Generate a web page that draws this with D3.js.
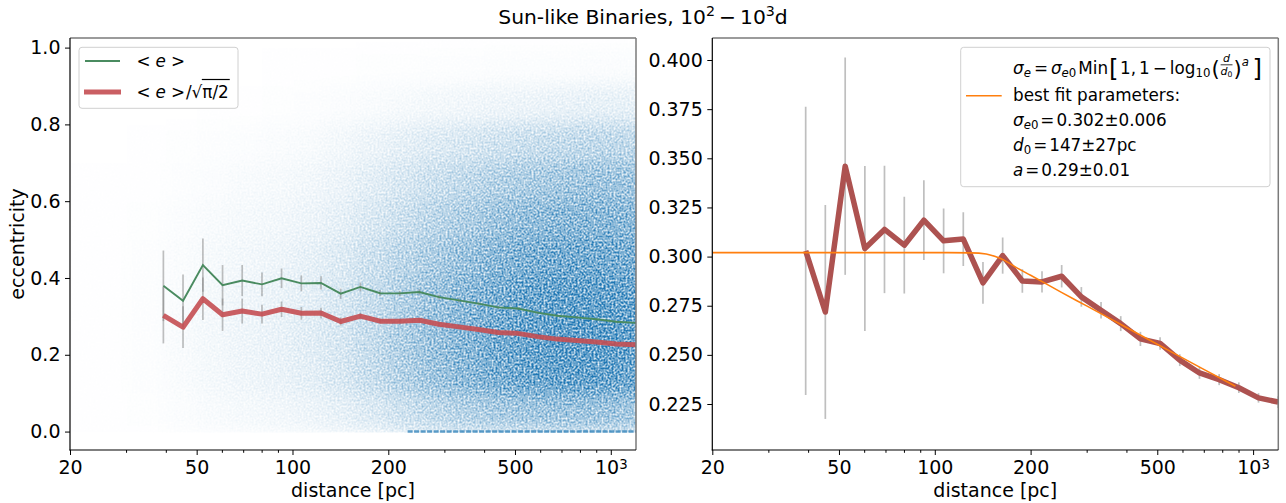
<!DOCTYPE html>
<html>
<head>
<meta charset="utf-8">
<script src="https://cdn.jsdelivr.net/npm/d3@7"></script>
<style>
  body { margin: 0; background: #fff; }
  svg text { font-family: "DejaVu Sans", sans-serif; fill: #000; }
</style>
</head>
<body>
<svg id="chart" width="1286" height="503"></svg>
<script>
// ---------- data ----------
var distance = [39.3, 45.3, 52.3, 60.3, 69.5, 80.2, 92.4, 106.6, 122.9, 141.7, 163.4, 188.4,
                217.2, 250.4, 288.7, 332.9, 383.9, 442.6, 510.3, 588.4, 678.5, 782.3, 902.0, 1040, 1199];
// <e>/sqrt(pi/2)
var sigmaE   = [0.3029, 0.2718, 0.3460, 0.3041, 0.3138, 0.3058, 0.3185, 0.3080, 0.3089, 0.2866, 0.3005, 0.2876,
                0.2871, 0.2900, 0.2795, 0.2727, 0.2659, 0.2581, 0.2558, 0.2473, 0.2408, 0.2374, 0.2333, 0.2281, 0.2260];
var sigmaErr = [0.0733, 0.0544, 0.0553, 0.0420, 0.0324, 0.0246, 0.0203, 0.0165, 0.0137, 0.0106, 0.0092, 0.0060,
                0.0054, 0.0057, 0.0050, 0.0042, 0.0038, 0.0036, 0.0032, 0.0030, 0.0030, 0.0028, 0.0027, 0.0024, 0.0030];
// <e>
var meanE    = [0.3796, 0.3406, 0.4336, 0.3811, 0.3933, 0.3833, 0.3992, 0.3860, 0.3871, 0.3592, 0.3766, 0.3604,
                0.3598, 0.3635, 0.3503, 0.3418, 0.3332, 0.3235, 0.3206, 0.3099, 0.3018, 0.2975, 0.2924, 0.2859, 0.2832];
var meanErr  = [0.0919, 0.0682, 0.0693, 0.0526, 0.0406, 0.0308, 0.0254, 0.0207, 0.0172, 0.0133, 0.0115, 0.0075,
                0.0068, 0.0071, 0.0063, 0.0053, 0.0048, 0.0045, 0.0040, 0.0038, 0.0038, 0.0035, 0.0034, 0.0030, 0.0038];

// best fit curve (orange)
var fitDist  = [20, 100, 130, 145, 155, 165, 180, 200, 250, 300, 400, 500, 700, 880];
var fitSigma = [0.302, 0.302, 0.3019, 0.3013, 0.3000, 0.2982, 0.2945, 0.2905, 0.2818, 0.2749, 0.2639, 0.2554, 0.2426, 0.2340];

// scatter cloud, estimated point density (shade) per (distance, eccentricity) cell
var scatterDistEdges = [20, 30, 40, 50, 63, 80, 100, 126, 158, 200, 251, 316, 398, 501, 631, 794, 1000, 1200];
var scatterEccEdges  = [0, 0.1, 0.2, 0.3, 0.4, 0.5, 0.6, 0.7, 0.8, 0.9, 1.0];
var scatterDensity = [
  [0.003, 0.007, 0.018, 0.030, 0.042, 0.055, 0.075, 0.100, 0.15, 0.21, 0.27, 0.32, 0.37, 0.40, 0.42, 0.42, 0.40],
  [0.005, 0.011, 0.028, 0.047, 0.066, 0.085, 0.115, 0.160, 0.24, 0.33, 0.42, 0.50, 0.58, 0.64, 0.67, 0.67, 0.64],
  [0.005, 0.012, 0.030, 0.050, 0.070, 0.090, 0.125, 0.170, 0.25, 0.35, 0.44, 0.52, 0.60, 0.66, 0.70, 0.70, 0.67],
  [0.005, 0.011, 0.028, 0.047, 0.066, 0.085, 0.115, 0.160, 0.24, 0.33, 0.42, 0.50, 0.58, 0.64, 0.67, 0.67, 0.65],
  [0.004, 0.010, 0.024, 0.040, 0.056, 0.072, 0.100, 0.140, 0.21, 0.29, 0.36, 0.44, 0.51, 0.57, 0.60, 0.60, 0.58],
  [0.003, 0.007, 0.018, 0.030, 0.042, 0.055, 0.075, 0.105, 0.16, 0.22, 0.29, 0.35, 0.42, 0.47, 0.50, 0.51, 0.50],
  [0.002, 0.005, 0.012, 0.020, 0.030, 0.040, 0.055, 0.080, 0.12, 0.17, 0.22, 0.27, 0.32, 0.36, 0.39, 0.41, 0.41],
  [0.000, 0.003, 0.006, 0.010, 0.015, 0.022, 0.033, 0.050, 0.08, 0.11, 0.14, 0.17, 0.20, 0.23, 0.25, 0.27, 0.27],
  [0.000, 0.000, 0.000, 0.004, 0.005, 0.008, 0.012, 0.018, 0.028, 0.04, 0.05, 0.06, 0.07, 0.08, 0.09, 0.10, 0.10],
  [0.000, 0.000, 0.000, 0.000, 0.000, 0.002, 0.003, 0.004, 0.006, 0.008, 0.010, 0.012, 0.015, 0.016, 0.017, 0.018, 0.018]
];
var zeroEccRange = [230, 1200];   // points piled up at e = 0

var xTicks      = [20, 50, 100, 200, 500, 1000];
var xTickLabels = ["20", "50", "100", "200", "500", "10^3"];
var xMinorTicks = [30, 40, 60, 70, 80, 90, 300, 400, 600, 700, 800, 900];
var yTicksLeft  = [0, 0.2, 0.4, 0.6, 0.8, 1.0];
var yTicksRight = [0.225, 0.250, 0.275, 0.300, 0.325, 0.350, 0.375, 0.400];

// ---------- layout ----------
var svg = d3.select('#chart');
var top0 = 38, bottom0 = 450;
var tickFont = 19, legFont = 16.8;
var greenCol = "#4a8b60", redCol = "#c44e52", redColR = "#ad5250", barCol = "gray";

var xL = d3.scaleLog().domain([20, 1200]).range([70, 636]);
var yL = d3.scaleLinear().domain([-0.048, 1.025]).range([bottom0, top0]);
var xR = d3.scaleLog().domain([20, 1200]).range([712.3, 1278.3]);
var yR = d3.scaleLinear().domain([0.2016, 0.4112]).range([bottom0, top0]);

var defs = svg.append('defs');
function clip(id, x) {
  defs.append('clipPath').attr('id', id).append('rect')
      .attr('x', x.range()[0]).attr('y', top0)
      .attr('width', x.range()[1] - x.range()[0]).attr('height', bottom0 - top0);
}
clip('clipL', xL);
clip('clipR', xR);
defs.append('clipPath').attr('id', 'clipCloud').append('rect')
    .attr('x', 70).attr('y', top0).attr('width', 566).attr('height', yL(0) - top0 + 1);

// speckled look of the scatter cloud (texture only, shade comes from the table)
var f = defs.append('filter').attr('id', 'cloud')
    .attr('filterUnits', 'userSpaceOnUse')
    .attr('x', 50).attr('y', 20).attr('width', 610).attr('height', 450)
    .attr('color-interpolation-filters', 'sRGB');
f.append('feGaussianBlur').attr('in', 'SourceAlpha').attr('stdDeviation', 9).attr('result', 'soft');
f.append('feTurbulence').attr('type', 'fractalNoise').attr('baseFrequency', 0.5)
    .attr('numOctaves', 2).attr('seed', 4).attr('result', 'noise');
f.append('feColorMatrix').attr('in', 'noise').attr('type', 'matrix')
    .attr('values', '0 0 0 0 0  0 0 0 0 0  0 0 0 0 0  1 0 0 0 0').attr('result', 'nA');
f.append('feComposite').attr('in', 'soft').attr('in2', 'nA').attr('operator', 'arithmetic')
    .attr('k1', 2.8).attr('k2', -0.4).attr('k3', 0).attr('k4', 0).attr('result', 'a');
f.append('feFlood').attr('flood-color', '#1f77b4').attr('result', 'c');
f.append('feComposite').attr('in', 'c').attr('in2', 'a').attr('operator', 'in');

// ---------- axes helper ----------
function drawAxes(x, y, yTicks, yFmt) {
  var g = svg.append('g');
  var x0 = x.range()[0], x1 = x.range()[1];

  var ax = d3.axisBottom(x).tickValues(xTicks).tickSize(5).tickPadding(6)
      .tickFormat(function(d, i) { return xTickLabels[i]; });
  var axg = g.append('g').attr('transform', 'translate(0,' + bottom0 + ')').call(ax);
  var axm = g.append('g').attr('transform', 'translate(0,' + bottom0 + ')')
      .call(d3.axisBottom(x).tickValues(xMinorTicks).tickSize(2.8).tickFormat(''));

  var ay = d3.axisLeft(y).tickValues(yTicks).tickSize(5).tickPadding(4.5).tickFormat(d3.format(yFmt));
  var ayg = g.append('g').attr('transform', 'translate(' + x0 + ',0)').call(ay);

  [axg, axm, ayg].forEach(function(a) {
    a.attr('font-size', null).attr('font-family', null);
    a.select('.domain').remove();
    a.selectAll('line').attr('stroke', '#000').attr('stroke-width', 1);
    a.selectAll('text').style('font-size', tickFont + 'px');
  });
  // superscript label for 10^3
  axg.selectAll('text').each(function(d, i) {
    var lab = xTickLabels[i];
    if (lab.indexOf('^') > 0) {
      var p = lab.split('^'), t = d3.select(this).text('');
      t.append('tspan').text(p[0]);
      t.append('tspan').attr('dy', '-0.45em').style('font-size', '70%').text(p[1]);
    }
  });

  // spines
  g.append('line').attr('x1', x0).attr('x2', x1).attr('y1', top0).attr('y2', top0)
      .attr('stroke', '#7a7a7a').attr('stroke-width', 1.5);
  g.append('line').attr('x1', x1).attr('x2', x1).attr('y1', top0).attr('y2', bottom0)
      .attr('stroke', '#7a7a7a').attr('stroke-width', 1.5);
  g.append('line').attr('x1', x0).attr('x2', x0).attr('y1', top0).attr('y2', bottom0 + 0.5)
      .attr('stroke', '#000').attr('stroke-width', 1.2);
  g.append('line').attr('x1', x0 - 0.5).attr('x2', x1).attr('y1', bottom0).attr('y2', bottom0)
      .attr('stroke', '#000').attr('stroke-width', 1.2);

  svg.append('text').attr('x', (x0 + x1) / 2).attr('y', 497).attr('text-anchor', 'middle')
      .style('font-size', tickFont + 'px').text('distance [pc]');
}

function errBars(g, x, y, vals, errs) {
  g.append('g').selectAll('line').data(distance).enter().append('line')
      .attr('x1', function(d) { return x(d); }).attr('x2', function(d) { return x(d); })
      .attr('y1', function(d, i) { return y(vals[i] - errs[i]); })
      .attr('y2', function(d, i) { return y(vals[i] + errs[i]); })
      .attr('stroke', barCol).attr('stroke-opacity', 0.5).attr('stroke-width', 1.7);
}

// text built piece by piece (simple mathtext)
function mathText(g, x, y, parts, size) {
  var cx = x;
  parts.forEach(function(p) {
    var fs = size * (p.s || 1);
    cx += (p.pre || 0);
    var t = g.append('text').attr('x', cx).attr('y', y + (p.dy || 0))
        .style('font-size', fs + 'px').style('font-style', p.i ? 'italic' : 'normal').text(p.t);
    var w = t.node().getComputedTextLength();
    if (p.over) {
      g.append('line').attr('x1', cx - 0.5).attr('x2', cx + w + 1)
          .attr('y1', y + p.over).attr('y2', y + p.over).attr('stroke', '#000').attr('stroke-width', 1.2);
    }
    cx += w + (p.post || 0);
  });
  return cx;
}

// ---------- left panel ----------
var gL = svg.append('g');
var cloudOuter = gL.append('g').attr('clip-path', 'url(#clipCloud)');
var cloud = cloudOuter.append('g').attr('filter', 'url(#cloud)');
scatterDensity.forEach(function(row, i) {
  row.forEach(function(v, j) {
    var xa = xL(scatterDistEdges[j]), xb = xL(scatterDistEdges[j + 1]);
    if (j === 0) xa -= 30;
    if (j === row.length - 1) xb += 30;
    var ya = yL(scatterEccEdges[i + 1]), yb = yL(scatterEccEdges[i]);
    cloud.append('rect').attr('x', xa).attr('y', ya).attr('width', xb - xa + 0.5)
        .attr('height', yb - ya + 0.5).attr('fill', '#1f77b4').attr('fill-opacity', v);
  });
});
gL.append('line').attr('x1', xL(zeroEccRange[0])).attr('x2', xL(zeroEccRange[1]))
    .attr('y1', yL(0)).attr('y2', yL(0))
    .attr('stroke', '#1f77b4').attr('stroke-width', 2.4).attr('stroke-opacity', 0.7)
    .attr('stroke-dasharray', '5 1.5');

var gLd = gL.append('g').attr('clip-path', 'url(#clipL)');
errBars(gLd, xL, yL, meanE, meanErr);
errBars(gLd, xL, yL, sigmaE, sigmaErr);
gLd.append('path').datum(meanE)
    .attr('d', d3.line().x(function(d, i) { return xL(distance[i]); }).y(function(d) { return yL(d); }))
    .attr('fill', 'none').attr('stroke', greenCol).attr('stroke-width', 1.9);
gLd.append('path').datum(sigmaE)
    .attr('d', d3.line().x(function(d, i) { return xL(distance[i]); }).y(function(d) { return yL(d); }))
    .attr('fill', 'none').attr('stroke', redCol).attr('stroke-width', 5).attr('stroke-opacity', 0.9)
    .attr('stroke-linejoin', 'round');

drawAxes(xL, yL, yTicksLeft, '.1f');
svg.append('text').attr('transform', 'translate(24,244) rotate(-90)').attr('text-anchor', 'middle')
    .style('font-size', tickFont + 'px').text('eccentricity');

// left legend
var lg = svg.append('g');
lg.append('rect').attr('x', 79).attr('y', 47.3).attr('width', 159).attr('height', 61).attr('rx', 3)
    .attr('fill', '#fff').attr('fill-opacity', 0.8).attr('stroke', '#d0d0d0').attr('stroke-width', 1);
lg.append('line').attr('x1', 85).attr('x2', 120).attr('y1', 61).attr('y2', 61)
    .attr('stroke', greenCol).attr('stroke-width', 1.9);
lg.append('line').attr('x1', 84).attr('x2', 121).attr('y1', 92).attr('y2', 92)
    .attr('stroke', redCol).attr('stroke-width', 5).attr('stroke-opacity', 0.9);
mathText(lg, 136.5, 66.5, [{t: '<', post: 5}, {t: 'e', i: true, post: 5}, {t: '>'}], legFont);
mathText(lg, 136.5, 97.5, [{t: '<', post: 5}, {t: 'e', i: true, post: 5}, {t: '>', post: 1},
    {t: '/'}, {t: '\u221A'}, {t: '\u03C0/2', over: -18}], legFont);

// ---------- right panel ----------
var gR = svg.append('g').attr('clip-path', 'url(#clipR)');
errBars(gR, xR, yR, sigmaE, sigmaErr);
gR.append('path').datum(sigmaE)
    .attr('d', d3.line().x(function(d, i) { return xR(distance[i]); }).y(function(d) { return yR(d); }))
    .attr('fill', 'none').attr('stroke', redColR).attr('stroke-width', 5.5).attr('stroke-linejoin', 'round');
gR.append('path').datum(fitSigma)
    .attr('d', d3.line().curve(d3.curveMonotoneX)
        .x(function(d, i) { return xR(fitDist[i]); }).y(function(d) { return yR(d); }))
    .attr('fill', 'none').attr('stroke', '#ff7f0e').attr('stroke-width', 1.6);

drawAxes(xR, yR, yTicksRight, '.3f');

// right legend
var rg = svg.append('g');
rg.append('rect').attr('x', 960.7).attr('y', 47.3).attr('width', 309.3).attr('height', 139.4).attr('rx', 3)
    .attr('fill', '#fff').attr('fill-opacity', 0.8).attr('stroke', '#d0d0d0').attr('stroke-width', 1);
rg.append('line').attr('x1', 966).attr('x2', 1001.7).attr('y1', 95.7).attr('y2', 95.7)
    .attr('stroke', '#ff7f0e').attr('stroke-width', 1.6);

var cx = mathText(rg, 1013, 73.5, [
  {t: '\u03C3', i: true}, {t: 'e', i: true, s: 0.7, dy: 3.5, post: 3},
  {t: '=', post: 3},
  {t: '\u03C3', i: true}, {t: 'e', i: true, s: 0.7, dy: 3.5}, {t: '0', s: 0.7, dy: 3.5, post: 2},
  {t: 'Min', post: 1},
  {t: '[', s: 1.45, dy: 3, post: 1.5},
  {t: '1,', post: 3}, {t: '1', post: 3}, {t: '\u2212', post: 3},
  {t: 'log'}, {t: '10', s: 0.7, dy: 3.5, post: 1},
  {t: '(', s: 1.25, dy: 2}
], legFont);
// small fraction d/d0
var fx = cx + 1;
var fnum = rg.append('text').attr('x', fx + 6).attr('y', 62).attr('text-anchor', 'middle')
    .style('font-size', '11px').style('font-style', 'italic').text('d');
var fden = mathText(rg, fx, 74.5, [{t: 'd', i: true, s: 1}, {t: '0', s: 0.7, dy: 2}], 11);
rg.append('line').attr('x1', fx).attr('x2', fden).attr('y1', 64.8).attr('y2', 64.8)
    .attr('stroke', '#000').attr('stroke-width', 0.8);
fnum.attr('x', (fx + fden) / 2);
mathText(rg, fden + 1, 73.5, [
  {t: ')', s: 1.25, dy: 2}, {t: 'a', i: true, s: 0.7, dy: -8, post: 3.5},
  {t: ']', s: 1.45, dy: 3}
], legFont);

mathText(rg, 1013, 100.5, [{t: 'best fit parameters:'}], legFont);
mathText(rg, 1013, 125.7, [{t: '\u03C3', i: true}, {t: 'e', i: true, s: 0.7, dy: 3.5},
    {t: '0', s: 0.7, dy: 3.5, post: 2}, {t: '=', post: 2}, {t: '0.302\u00B10.006'}], legFont);
mathText(rg, 1013, 150.7, [{t: 'd', i: true}, {t: '0', s: 0.7, dy: 3.5, post: 2}, {t: '=', post: 2},
    {t: '147\u00B127pc'}], legFont);
mathText(rg, 1013, 175.7, [{t: 'a', i: true, post: 2}, {t: '=', post: 2}, {t: '0.29\u00B10.01'}], legFont);

// ---------- title ----------
var tg = svg.append('g');
var te = mathText(tg, 0, 24, [
  {t: 'Sun-like Binaries, 10'}, {t: '2', s: 0.7, dy: -8, post: 4},
  {t: '\u2212', post: 4}, {t: '10'}, {t: '3', s: 0.7, dy: -8}, {t: 'd'}
], 20.3);
tg.attr('transform', 'translate(' + (643 - te / 2) + ',0)');
</script>
</body>
</html>
